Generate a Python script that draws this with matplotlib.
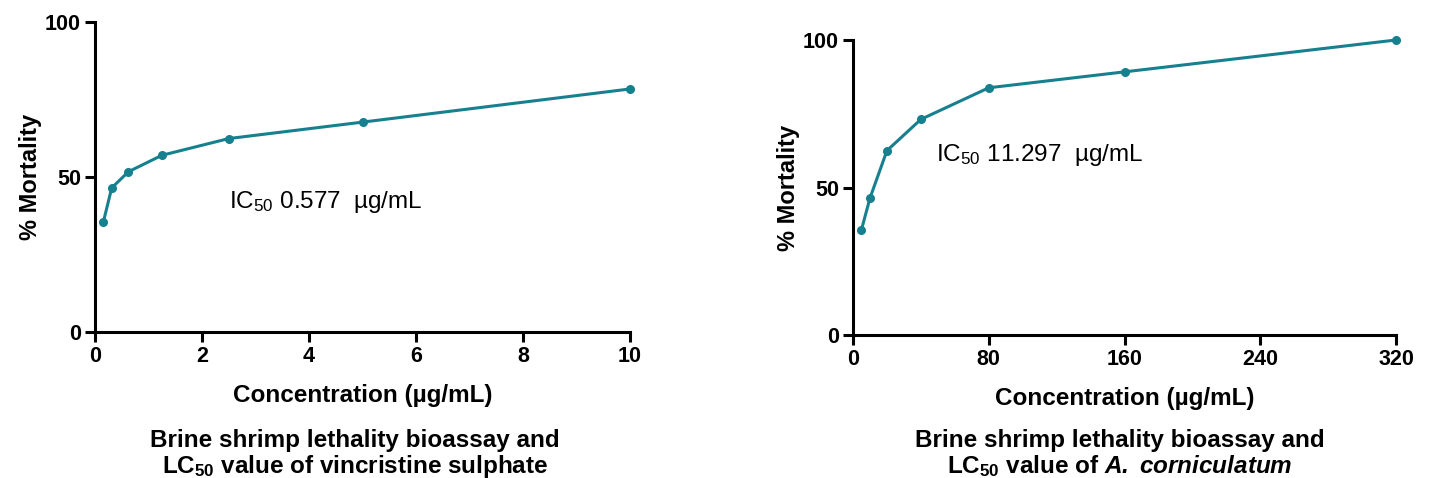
import matplotlib.pyplot as plt

plt.rcParams['font.family'] = ['Liberation Sans', 'DejaVu Sans']
plt.rcParams['mathtext.fontset'] = 'custom'
plt.rcParams['mathtext.rm'] = 'Liberation Sans'
plt.rcParams['mathtext.it'] = 'Liberation Sans:italic'
plt.rcParams['mathtext.bf'] = 'Liberation Sans:bold'
plt.rcParams['mathtext.bfit'] = 'Liberation Sans:bold:italic'

# vincristine sulphate
vin_conc = [0.15625, 0.3125, 0.625, 1.25, 2.5, 5, 10]
vin_mort = [35.5, 46.5, 51.7, 57.0, 62.4, 67.7, 78.4]

# A. corniculatum
ac_conc = [5, 10, 20, 40, 80, 160, 320]
ac_mort = [35.7, 46.4, 62.5, 73.1, 83.8, 89.2, 100]

line_color = '#16808f'

fig = plt.figure(figsize=(14.32, 4.78), dpi=100)
W, H = 1432, 478


def px_axes(x0, y_top, x1, y_bot):
    return fig.add_axes([x0 / W, 1 - y_bot / H, (x1 - x0) / W, (y_bot - y_top) / H])


def style(ax, conc, mort, xlim, xticks):
    ax.plot(conc, mort, color=line_color, lw=2.2,
            marker='o', ms=5.5, clip_on=False, zorder=3)
    ax.set_xlim(*xlim)
    ax.set_ylim(0, 100)
    ax.set_xticks(xticks)
    ax.set_yticks([0, 50, 100])
    for s in ['top', 'right']:
        ax.spines[s].set_visible(False)
    for s in ['left', 'bottom']:
        ax.spines[s].set_linewidth(2.2)
    ax.tick_params(width=2.2, length=7, labelsize=15.5, pad=3)
    for lab in ax.get_xticklabels() + ax.get_yticklabels():
        lab.set_fontweight('bold')
    ax.set_ylabel('% Mortality', fontsize=17, fontweight='bold', labelpad=2)
    ax.set_xlabel('Concentration (µg/mL)', fontsize=17.5, fontweight='bold', labelpad=12)


ax1 = px_axes(95, 22, 630, 332)
ax2 = px_axes(853, 40, 1396, 335)

style(ax1, vin_conc, vin_mort, (0, 10), [0, 2, 4, 6, 8, 10])
style(ax2, ac_conc, ac_mort, (0, 320), [0, 80, 160, 240, 320])

ax1.text(2.5, 42, r'IC$_{50}$ 0.577  µg/mL', fontsize=17.5, va='center')
ax2.text(49, 61, r'IC$_{50}$ 11.297  µg/mL', fontsize=17.5, va='center')

fig.text(355 / W, 1 - 441 / H, 'Brine shrimp lethality bioassay and',
         ha='center', va='center', fontsize=17.5, fontweight='bold')
fig.text(355 / W, 1 - 466 / H, r'LC$_{\mathbf{50}}$ value of vincristine sulphate',
         ha='center', va='center', fontsize=17.5, fontweight='bold')
fig.text(1120 / W, 1 - 441 / H, 'Brine shrimp lethality bioassay and',
         ha='center', va='center', fontsize=17.5, fontweight='bold')
fig.text(1120 / W, 1 - 466 / H, r'LC$_{\mathbf{50}}$ value of $\mathbfit{A.\ corniculatum}$',
         ha='center', va='center', fontsize=17.5, fontweight='bold')

fig.savefig('out.png', dpi=100)
